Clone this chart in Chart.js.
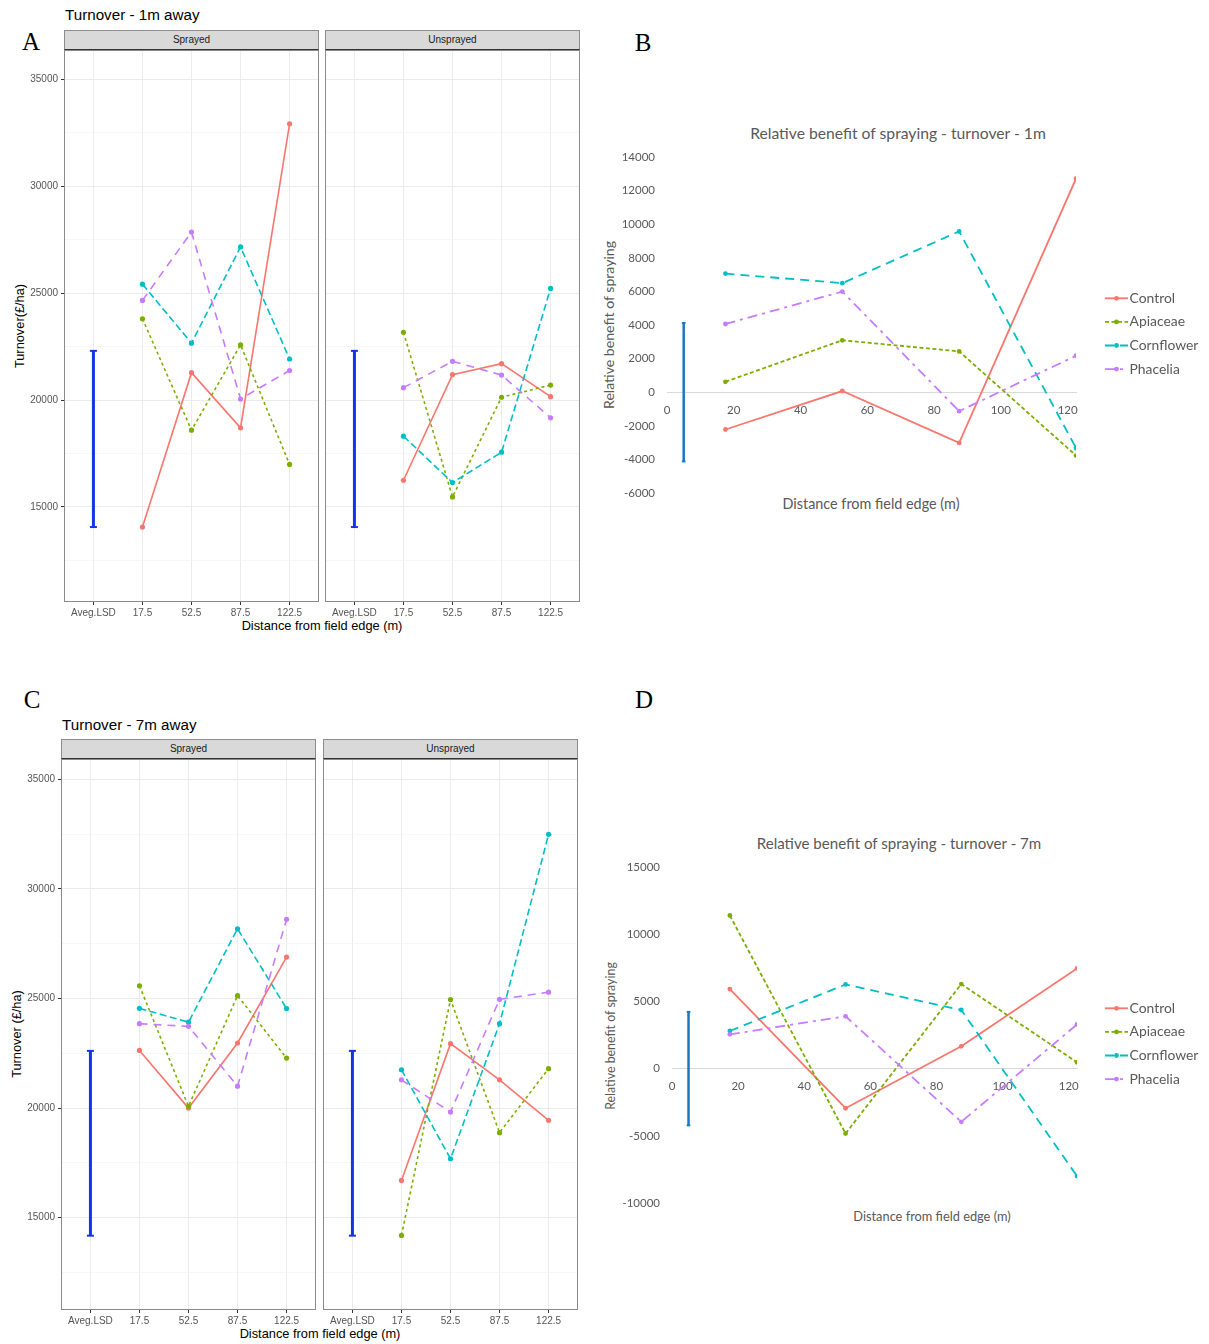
<!DOCTYPE html>
<html>
<head>
<meta charset="utf-8">
<script src="https://cdn.jsdelivr.net/npm/chart.js@4.4.1/dist/chart.umd.min.js"></script>
<style>
  body { margin: 0; background: #fff; }
  #fig { position: relative; width: 1209px; height: 1344px; overflow: hidden; font-family: 'Liberation Sans', Arial, sans-serif; }
  #fig canvas, #fig .t { position: absolute; }
  .t { white-space: nowrap; line-height: 1; }
  .mid { transform: translate(-50%, -50%); }
  .lmid { transform: translate(0, -50%); }
  .rot { transform: translate(-50%, -50%) rotate(-90deg); }
  .tag { font-family: 'Liberation Serif', 'DejaVu Serif', serif; font-size: 25px; color: #000; }
  .gtitle { font-size: 15.2px; color: #000; }
  .gaxis { font-size: 12.8px; color: #000; }
  .strip { box-sizing: border-box; height: 20px; background: #d9d9d9; border: 1px solid #8c8c8c; border-bottom: 1.5px solid #333;
           font-size: 10px; color: #1a1a1a; text-align: center; line-height: 17px; }
  .xl { font-family: Lato, 'Open Sans', sans-serif; color: #595959; }
</style>
</head>
<body>
<div id="fig">
  <!-- A: turnover 1 m away -->
  <div class="t tag mid" style="left:31px;top:41px">A</div>
  <div class="t gtitle lmid" style="left:65px;top:15px">Turnover - 1m away</div>
  <div class="t strip" style="left:64px;top:30px;width:255px">Sprayed</div>
  <div class="t strip" style="left:325px;top:30px;width:255px">Unsprayed</div>
  <div class="t gaxis rot" style="left:20px;top:326px">Turnover(£/ha)</div>
  <div class="t gaxis mid" style="left:322px;top:626px">Distance from field edge (m)</div>
  <canvas id="a1" width="319" height="580" style="left:0;top:40px"></canvas>
  <canvas id="a2" width="255" height="580" style="left:325px;top:40px"></canvas>

  <!-- B: relative benefit 1 m -->
  <div class="t tag mid" style="left:643px;top:42px">B</div>
  <div class="t xl mid" style="left:898px;top:134px;font-size:15.7px">Relative benefit of spraying - turnover - 1m</div>
  <div class="t xl rot" style="left:609px;top:325px;font-size:14.1px">Relative benefit of spraying</div>
  <div class="t xl mid" style="left:871px;top:504px;font-size:14.4px">Distance from field edge (m)</div>
  <canvas id="b" width="609" height="386" style="left:600px;top:132px"></canvas>

  <!-- C: turnover 7 m away -->
  <div class="t tag mid" style="left:32px;top:699px">C</div>
  <div class="t gtitle lmid" style="left:62px;top:725px">Turnover - 7m away</div>
  <div class="t strip" style="left:61px;top:739px;width:255px">Sprayed</div>
  <div class="t strip" style="left:323px;top:739px;width:255px">Unsprayed</div>
  <div class="t gaxis rot" style="left:17px;top:1034px">Turnover (£/ha)</div>
  <div class="t gaxis mid" style="left:320px;top:1334px">Distance from field edge (m)</div>
  <canvas id="c1" width="316" height="579" style="left:0;top:749px"></canvas>
  <canvas id="c2" width="255" height="579" style="left:323px;top:749px"></canvas>

  <!-- D: relative benefit 7 m -->
  <div class="t tag mid" style="left:644px;top:699px">D</div>
  <div class="t xl mid" style="left:899px;top:844px;font-size:15.1px">Relative benefit of spraying - turnover - 7m</div>
  <div class="t xl rot" style="left:611px;top:1036px;font-size:12.4px">Relative benefit of spraying</div>
  <div class="t xl mid" style="left:932px;top:1216px;font-size:12.8px">Distance from field edge (m)</div>
  <canvas id="d" width="609" height="386" style="left:600px;top:842px"></canvas>
</div>

<script>
// x categories of the facet panels (slot 0 holds the LSD bar)
const facetLabels = ['Aveg.LSD', '17.5', '52.5', '87.5', '122.5'];
const facetSlots = [0, 1, 2, 3, 4];
// turnover gridlines; only the multiples of 5000 get a label
const turnoverTicks = [12500, 15000, 17500, 20000, 22500, 25000, 27500, 30000, 32500, 35000];
const distances = [17.5, 52.5, 87.5, 122.5];
const mixes = ['Control', 'Apiaceae', 'Cornflower', 'Phacelia'];

// turnover (£/ha), one row per mix in the order of `mixes`
const sprayed1m = [
  [14060, 21280, 18700, 32920],
  [23800, 18590, 22580, 16990],
  [25420, 22660, 27160, 21920],
  [24660, 27860, 20050, 21380]
];
const unsprayed1m = [
  [16250, 21190, 21700, 20160],
  [23170, 15470, 20130, 20700],
  [18310, 16140, 17560, 25220],
  [20580, 21810, 21170, 19170]
];
const sprayed7m = [
  [22630, 20000, 22970, 26890],
  [25580, 20080, 25130, 22280],
  [24550, 23920, 28180, 24540],
  [23850, 23730, 21000, 28610]
];
const unsprayed7m = [
  [16700, 22940, 21290, 19440],
  [14190, 24950, 18880, 21800],
  [21750, 17690, 23850, 32490],
  [21290, 19820, 24960, 25290]
];
// average LSD bar, low/high end
const lsd1m = [14060, 22300];
const lsd7m = [14180, 22610];

// sprayed minus unsprayed
const benefit1m = [
  [-2220, 70, -3020, 12710],
  [620, 3090, 2430, -3770],
  [7060, 6490, 9570, -3320],
  [4060, 5990, -1130, 2170]
];
const benefit7m = [
  [5920, -2950, 1660, 7450],
  [11390, -4830, 6290, 470],
  [2800, 6260, 4360, -8000],
  [2550, 3890, -3960, 3290]
];
const lsdBenefit1m = [-4120, 4120];
const lsdBenefit7m = [-4220, 4220];

const hue = ['#F8766D', '#7CAE00', '#00BFC4', '#C77CFF'];
const ggDash = [[], [3, 3], [7, 3.5], [8, 6]];
const xlDash = [[], [4, 2.5], [9, 6], [10, 5, 3, 5]];

// grey frame round each facet
const panelBorder = {
  id: 'panelBorder',
  afterDraw(chart) {
    const a = chart.chartArea, ctx = chart.ctx;
    ctx.save();
    ctx.strokeStyle = '#8a8a8a';
    ctx.lineWidth = 1;
    ctx.strokeRect(a.left + 0.5, a.top + 0.5, a.right - a.left - 1, a.bottom - a.top - 1);
    ctx.restore();
  }
};

// Excel style legend: dashed line with a dot, label to the right
const sideLegend = {
  id: 'sideLegend',
  afterDraw(chart, args, o) {
    const ctx = chart.ctx;
    ctx.save();
    ctx.font = o.font;
    ctx.textBaseline = 'middle';
    chart.data.datasets.forEach((ds, i) => {
      if (!ds.label) return;
      const y = o.top + i * o.gap;
      ctx.strokeStyle = ds.borderColor;
      ctx.lineWidth = ds.borderWidth;
      ctx.setLineDash(ds.borderDash || []);
      ctx.beginPath();
      ctx.moveTo(o.left, y);
      ctx.lineTo(o.left + 23, y);
      ctx.stroke();
      ctx.setLineDash([]);
      ctx.fillStyle = ds.borderColor;
      ctx.beginPath();
      ctx.arc(o.left + 11.5, y, ds.pointRadius, 0, Math.PI * 2);
      ctx.fill();
      ctx.fillStyle = o.color;
      ctx.fillText(ds.label, o.left + 24.5, y);
    });
    ctx.restore();
  }
};

const isMajor = c => c.tick && c.tick.value % 5000 === 0;

function facet(id, rows, lsd, yMin, yMax, axisW) {
  const datasets = rows.map((vals, i) => ({
    label: mixes[i],
    data: vals.map((v, j) => ({ x: j + 1, y: v })),
    borderColor: hue[i],
    backgroundColor: hue[i],
    borderWidth: 1.6,
    borderDash: ggDash[i],
    pointRadius: 2.6,
    pointBorderWidth: 0,
    order: 3 - i
  }));
  datasets.push({
    data: [{ x: 0, y: lsd[0] }, { x: 0, y: lsd[1] }],
    borderColor: '#1434e8',
    borderWidth: 3,
    pointStyle: 'line',
    pointRadius: 3.5,
    pointBorderWidth: 2,
    pointBorderColor: '#1434e8',
    order: 4
  });

  new Chart(document.getElementById(id), {
    type: 'line',
    data: { datasets },
    plugins: [panelBorder],
    options: {
      responsive: false,
      animation: false,
      events: [],
      layout: { autoPadding: false, padding: { top: 10, left: 0, right: 0, bottom: 0 } },
      plugins: { legend: { display: false }, tooltip: { enabled: false } },
      scales: {
        x: {
          type: 'linear',
          min: -0.6,
          max: 4.6,
          afterBuildTicks: s => { s.ticks = facetSlots.map(value => ({ value })); },
          afterFit: s => { s.height = 18; },
          border: { display: false },
          grid: { color: '#ebebeb', lineWidth: 1, tickLength: 3, tickColor: '#333' },
          ticks: {
            autoSkip: false, maxRotation: 0, padding: 2,
            color: '#555', font: { family: 'Liberation Sans', size: 10 },
            callback: v => facetLabels[v]
          }
        },
        y: {
          min: yMin,
          max: yMax,
          afterBuildTicks: s => { s.ticks = turnoverTicks.map(value => ({ value })); },
          afterFit: s => { s.width = axisW; },
          border: { display: false },
          grid: {
            color: c => isMajor(c) ? '#ebebeb' : '#f4f4f4',
            lineWidth: c => isMajor(c) ? 1 : 0.7,
            drawTicks: axisW > 0,
            tickLength: 3,
            tickColor: c => isMajor(c) ? '#333' : 'rgba(0,0,0,0)'
          },
          ticks: {
            display: axisW > 0,
            autoSkip: false, padding: 3,
            color: '#555', font: { family: 'Liberation Sans', size: 10 },
            callback: v => v % 5000 === 0 ? String(v) : ''
          }
        }
      }
    }
  });
}

function benefit(id, rows, lsd, yMin, yMax, step, axisW, padRight) {
  const datasets = rows.map((vals, i) => ({
    label: mixes[i],
    data: vals.map((v, j) => ({ x: distances[j], y: v })),
    borderColor: hue[i],
    backgroundColor: hue[i],
    borderWidth: 1.8,
    borderDash: xlDash[i],
    pointRadius: 2.4,
    pointBorderWidth: 0,
    order: 3 - i
  }));
  datasets.push({
    data: [{ x: 5, y: lsd[0] }, { x: 5, y: lsd[1] }],
    borderColor: '#1f75c6',
    borderWidth: 2.5,
    pointStyle: 'line',
    pointRadius: 1.8,
    pointBorderWidth: 2,
    pointBorderColor: '#1f75c6',
    order: 4
  });

  const tickFont = { family: 'Lato', size: 11.5 };
  new Chart(document.getElementById(id), {
    type: 'line',
    data: { datasets },
    plugins: [sideLegend],
    options: {
      responsive: false,
      animation: false,
      events: [],
      layout: { autoPadding: false, padding: { top: 25, bottom: 25, left: 0, right: padRight } },
      plugins: {
        legend: { display: false },
        tooltip: { enabled: false },
        sideLegend: { left: 505, top: 166.3, gap: 23.6, font: '13.9px Lato', color: '#595959' }
      },
      scales: {
        x: {
          type: 'linear',
          min: 0,
          max: 122.5,
          position: { y: 0 },
          border: { color: '#d9d9d9', width: 1 },
          grid: { display: false, drawTicks: false },
          ticks: {
            stepSize: 20, includeBounds: false, autoSkip: false, maxRotation: 0, padding: 11,
            color: '#595959', font: tickFont, callback: v => String(v)
          }
        },
        y: {
          min: yMin,
          max: yMax,
          afterFit: s => { s.width = axisW; },
          border: { display: false },
          grid: { display: false, drawTicks: false },
          ticks: { stepSize: step, padding: 12, color: '#595959', font: tickFont, callback: v => String(v) }
        }
      }
    }
  });
}

facet('a1', sprayed1m, lsd1m, 10555, 36371, 64);
facet('a2', unsprayed1m, lsd1m, 10555, 36371, 0);
facet('c1', sprayed7m, lsd7m, 10789, 35926, 61);
facet('c2', unsprayed7m, lsd7m, 10789, 35926, 0);
benefit('b', benefit1m, lsdBenefit1m, -6000, 14000, 2000, 67, 133);
benefit('d', benefit7m, lsdBenefit7m, -10000, 15000, 5000, 72, 132);
</script>
</body>
</html>
